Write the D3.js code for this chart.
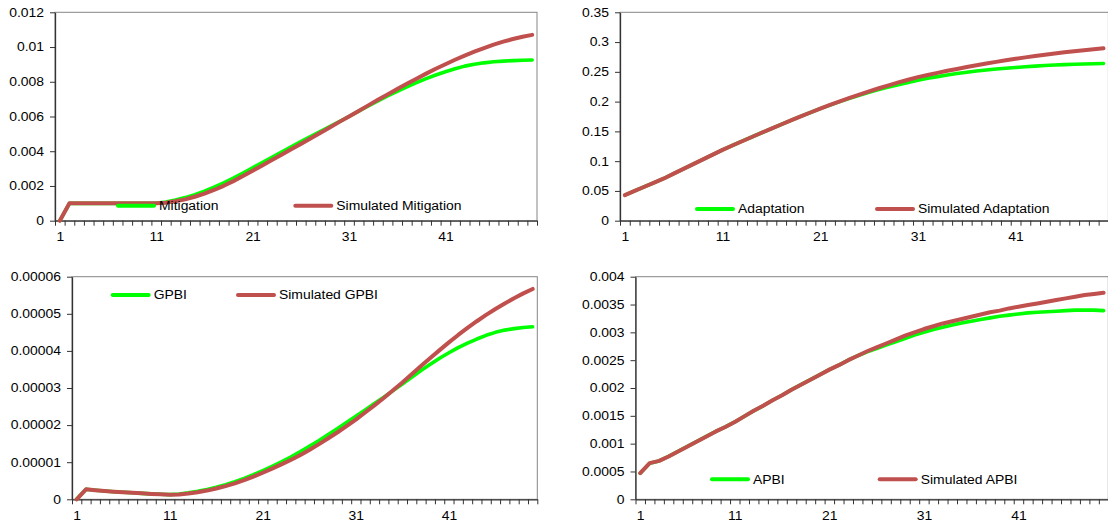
<!DOCTYPE html>
<html><head><meta charset="utf-8">
<script src="https://cdn.jsdelivr.net/npm/d3@7"></script>
<style>body{margin:0;background:#fff} svg{display:block}</style>
</head><body><svg id="c" width="1108" height="527"></svg>
<script>
const categories = [1,2,3,4,5,6,7,8,9,10,11,12,13,14,15,16,17,18,19,20,21,22,23,24,25,26,27,28,29,30,31,32,33,34,35,36,37,38,39,40,41,42,43,44,45,46,47,48,49,50];
const xTickLabels = [1, 11, 21, 31, 41];

const mitigation = [0,0.001,0.001,0.001,0.001,0.001,0.001,0.001,0.001,0.001,0.001,
 0.00108,0.00119,0.00133,0.0015,0.0017,0.00193,0.00218,0.00245,0.00274,0.00305,
 0.00335,0.00365,0.00395,0.00425,0.00455,0.00484,0.00513,0.00542,0.00571,0.006,
 0.00631,0.00661,0.0069,0.00718,0.00745,0.00771,0.00795,0.00818,0.00839,0.00858,
 0.00875,0.0089,0.00901,0.00909,0.00915,0.00919,0.00922,0.00924,0.00925];
const simMitigation = [0,0.001,0.001,0.001,0.001,0.001,0.001,0.001,0.001,0.001,0.001,
 0.00104,0.00112,0.00123,0.00138,0.00156,0.00177,0.00201,0.00228,0.00257,0.00288,
 0.00318,0.00349,0.0038,0.00411,0.00442,0.00473,0.00505,0.00537,0.00569,0.006,
 0.00632,0.00664,0.00696,0.00727,0.00758,0.00788,0.00818,0.00847,0.00875,0.00901,
 0.00927,0.00951,0.00973,0.00994,0.01014,0.01031,0.01046,0.01059,0.0107];
const mitigationTicks = ["0","0.002","0.004","0.006","0.008","0.01","0.012"];

const adaptation = [0.043,0.05,0.057,0.064,0.071,0.079,0.087,0.095,0.103,0.111,0.119,
 0.1263,0.1335,0.1406,0.1477,0.1547,0.1616,0.1684,0.1751,0.1817,0.1882,
 0.1942,0.2,0.2055,0.2107,0.2156,0.2202,0.2245,0.2285,0.2323,0.236,
 0.2391,0.242,0.2447,0.2472,0.2494,0.2513,0.2531,0.2547,0.2561,0.2573,
 0.2585,0.2596,0.2606,0.2614,0.2621,0.2627,0.2632,0.2636,0.2639];
const simAdaptation = [0.043,0.05,0.057,0.064,0.071,0.079,0.087,0.095,0.103,0.111,0.119,
 0.1263,0.1335,0.1406,0.1477,0.1547,0.1616,0.1684,0.1751,0.1817,0.1882,
 0.1944,0.2004,0.2062,0.2118,0.2172,0.2224,0.2274,0.2322,0.2368,0.2412,
 0.2448,0.2483,0.2517,0.2549,0.258,0.261,0.2639,0.2667,0.2694,0.2719,
 0.2743,0.2766,0.2788,0.2809,0.2828,0.2847,0.2864,0.288,0.2895];
const adaptationTicks = ["0","0.05","0.1","0.15","0.2","0.25","0.3","0.35"];

const gpbi = [0,2.7e-6,2.45e-6,2.25e-6,2.05e-6,1.9e-6,1.75e-6,1.6e-6,1.45e-6,1.35e-6,1.25e-6,
 1.45e-6,1.75e-6,2.15e-6,2.65e-6,3.25e-6,3.95e-6,4.75e-6,5.65e-6,6.65e-6,7.75e-6,
 8.9e-6,1.01e-5,1.14e-5,1.28e-5,1.43e-5,1.58e-5,1.74e-5,1.9e-5,2.07e-5,2.24e-5,
 2.41e-5,2.58e-5,2.75e-5,2.93e-5,3.11e-5,3.29e-5,3.47e-5,3.64e-5,3.8e-5,3.95e-5,
 4.09e-5,4.21e-5,4.32e-5,4.42e-5,4.5e-5,4.56e-5,4.6e-5,4.63e-5,4.65e-5];
const simGpbi = [0,2.7e-6,2.45e-6,2.25e-6,2.05e-6,1.9e-6,1.75e-6,1.6e-6,1.45e-6,1.35e-6,1.25e-6,
 1.3e-6,1.55e-6,1.9e-6,2.35e-6,2.9e-6,3.55e-6,4.3e-6,5.15e-6,6.1e-6,7.15e-6,
 8.25e-6,9.4e-6,1.06e-5,1.19e-5,1.33e-5,1.48e-5,1.64e-5,1.8e-5,1.97e-5,2.15e-5,
 2.34e-5,2.53e-5,2.73e-5,2.94e-5,3.15e-5,3.37e-5,3.59e-5,3.81e-5,4.02e-5,4.23e-5,
 4.43e-5,4.62e-5,4.8e-5,4.97e-5,5.13e-5,5.28e-5,5.42e-5,5.55e-5,5.67e-5];
const gpbiTicks = ["0","0.00001","0.00002","0.00003","0.00004","0.00005","0.00006"];

const apbi = [0.00047,0.00065,0.00069,0.00077,0.00086,0.00095,0.00104,0.00113,0.00122,0.0013,0.00139,
 0.00149,0.00159,0.00168,0.00178,0.00187,0.00197,0.00206,0.00215,0.00224,0.00233,
 0.00241,0.0025,0.00258,0.00265,0.00271,0.00277,0.00283,0.00289,0.00295,0.003,
 0.00305,0.00309,0.00313,0.00317,0.0032,0.00323,0.00326,0.00329,0.00331,0.00333,
 0.00335,0.00336,0.00337,0.00338,0.00339,0.0034,0.0034,0.0034,0.00339];
const simApbi = [0.00047,0.00065,0.00069,0.00077,0.00086,0.00095,0.00104,0.00113,0.00122,0.0013,0.00139,
 0.00149,0.00159,0.00168,0.00178,0.00187,0.00197,0.00206,0.00215,0.00224,0.00233,
 0.00241,0.0025,0.00258,0.00266,0.00273,0.0028,0.00287,0.00294,0.003,0.00306,
 0.00311,0.00316,0.0032,0.00324,0.00328,0.00332,0.00336,0.00339,0.00343,0.00346,
 0.00349,0.00352,0.00355,0.00358,0.00361,0.00364,0.00367,0.00369,0.00371];
const apbiTicks = ["0","0.0005","0.001","0.0015","0.002","0.0025","0.003","0.0035","0.004"];

const panels = [
  {label:"Mitigation", simLabel:"Simulated Mitigation", actual:mitigation, simulated:simMitigation, ticks:mitigationTicks,
   box:[55,537,12.3,220.7], leg:{g:116,r:293.3,y:205.7}},
  {label:"Adaptation", simLabel:"Simulated Adaptation", actual:adaptation, simulated:simAdaptation, ticks:adaptationTicks,
   box:[620,1108.4,12.3,220.7], leg:{g:695,r:875,y:209}},
  {label:"GPBI", simLabel:"Simulated GPBI", actual:gpbi, simulated:simGpbi, ticks:gpbiTicks,
   box:[72,537.3,276.7,499.3], leg:{g:110.7,r:236,y:295}},
  {label:"APBI", simLabel:"Simulated APBI", actual:apbi, simulated:simApbi, ticks:apbiTicks,
   box:[635.5,1108.3,276.7,499.3], leg:{g:710,r:877.7,y:479.3}}
];

const GREEN = "#00ff00", RED = "#c0504d", SX = 1.16;
const FONT = "'Liberation Sans', Arial, sans-serif";
const svg = d3.select("#c");

panels.forEach(p => {
  const [x0, x1, yT, yB] = p.box;
  const tickVals = p.ticks.map(Number);
  const x = d3.scaleLinear().domain([0.5, categories.length + 0.5]).range([x0, x1]);
  const y = d3.scaleLinear().domain([0, d3.max(tickVals)]).range([yB, yT]);
  const g = svg.append("g");

  g.append("rect").attr("x", x0).attr("y", yT).attr("width", x1 - x0).attr("height", yB - yT)
    .attr("fill", "none").attr("stroke", "#868686").attr("stroke-width", 1);

  const boundaries = categories.map(c => c - 0.5).concat([categories.length + 0.5]);
  const xb = g.append("g").attr("transform", `translate(0,${yB})`)
    .call(d3.axisBottom(x).tickValues(boundaries).tickSize(5).tickSizeOuter(0).tickFormat(""));
  xb.select(".domain").attr("stroke", "#333").attr("stroke-width", 1.3);
  xb.selectAll(".tick line").attr("stroke", "#333");

  const xl = g.append("g").attr("transform", `translate(0,${yB})`)
    .call(d3.axisBottom(x).tickValues(xTickLabels).tickSize(0).tickFormat(d3.format("d")));
  xl.select(".domain").remove();
  xl.selectAll("text").attr("y", 12).attr("font-size", 12).attr("font-family", FONT)
    .attr("fill", "#000").attr("transform", `scale(${SX},1)`);

  const ya = g.append("g").attr("transform", `translate(${x0},0)`)
    .call(d3.axisLeft(y).tickValues(tickVals).tickSize(5).tickSizeOuter(0)
      .tickFormat((d, i) => p.ticks[i]));
  ya.select(".domain").attr("stroke", "#333").attr("stroke-width", 1.3);
  ya.selectAll(".tick line").attr("stroke", "#333");
  ya.selectAll("text").attr("x", -9.5).attr("font-size", 12).attr("font-family", FONT)
    .attr("fill", "#000").attr("transform", `scale(${SX},1)`);

  const line = d3.line().x((d, i) => x(categories[i])).y(d => y(d));
  g.append("path").datum(p.actual).attr("d", line).attr("fill", "none")
    .attr("stroke", GREEN).attr("stroke-width", 3.6).attr("stroke-linejoin", "round").attr("stroke-linecap", "round");
  g.append("path").datum(p.simulated).attr("d", line).attr("fill", "none")
    .attr("stroke", RED).attr("stroke-width", 4).attr("stroke-linejoin", "round").attr("stroke-linecap", "round");

  const items = [{c: GREEN, t: p.label, x: p.leg.g}, {c: RED, t: p.simLabel, x: p.leg.r}];
  items.forEach(it => {
    g.append("line").attr("x1", it.x + 2).attr("x2", it.x + 38).attr("y1", p.leg.y).attr("y2", p.leg.y)
      .attr("stroke", it.c).attr("stroke-width", 4).attr("stroke-linecap", "round");
    g.append("g").attr("transform", `translate(${it.x + 43},${p.leg.y}) scale(${SX},1)`)
      .append("text").attr("dy", "0.36em").attr("font-size", 12).attr("font-family", FONT)
      .attr("fill", "#000").text(it.t);
  });
});
</script>
</body></html>
